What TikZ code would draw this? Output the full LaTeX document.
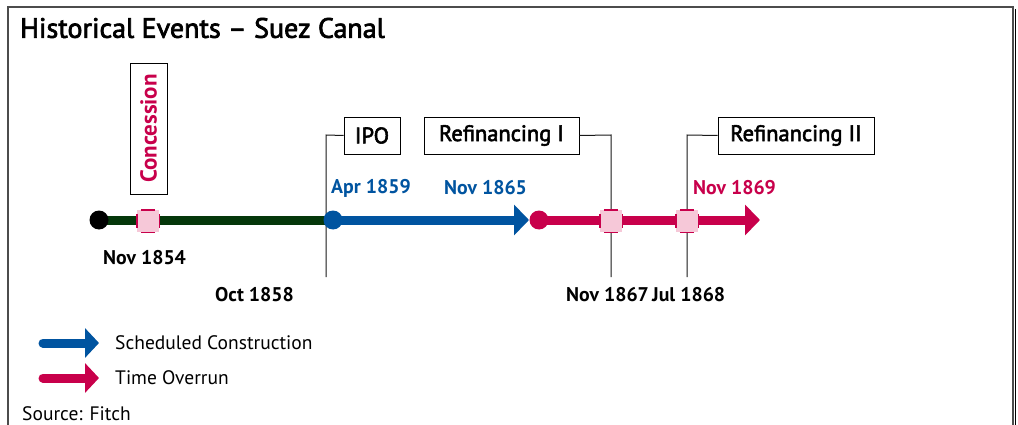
\documentclass[tikz,border=0pt]{standalone}
\usepackage{fontspec}
\setmainfont{PT Sans}
\newfontfamily\semib[FakeBold=2.5]{PT Sans}
\usetikzlibrary{arrows.meta}
\definecolor{dkgreen}{RGB}{5,55,10}
\definecolor{fblue}{RGB}{0,84,160}
\definecolor{crim}{RGB}{200,0,75}
\definecolor{lpink}{RGB}{246,200,216}
\tikzset{
  evbox/.style={draw=black, line width=0.9pt, fill=white, minimum height=37pt, inner sep=0pt, font=\semib\fontsize{22.5}{24}\selectfont},
  lead/.style={draw=black!90, line width=1pt},
  date/.style={font=\bfseries\fontsize{19.8}{22}\selectfont, inner sep=0pt},
  legtxt/.style={font=\fontsize{19.5}{22}\selectfont, inner sep=0pt, anchor=west},
  dot/.style={circle, minimum size=19pt, inner sep=0pt},
  pinksq/.style={rectangle, fill=lpink, minimum size=22pt, inner sep=0pt},
  bar/.style={line width=9pt},
}
\newcommand{\pinkmark}[2]{%
  \node[pinksq] (#1) at #2 {};
  \draw[crim, line width=1.4pt] ([xshift=4pt]#1.north west) -- ([xshift=-4pt]#1.north east)
    ([xshift=4pt]#1.south west) -- ([xshift=-4pt]#1.south east)
    ([yshift=-4pt]#1.north west) -- ([yshift=4pt]#1.south west)
    ([yshift=-4pt]#1.north east) -- ([yshift=4pt]#1.south east);
}
\begin{document}
\begin{tikzpicture}[x=1pt,y=-1pt]
\useasboundingbox (0,0) rectangle (1018,425);
\fill[white] (0,0) rectangle (1018,425);
% frame
\draw[black!70, line width=1.2pt] (8,426) -- (8,7) -- (1013,7) -- (1013,426);
\draw[black, line width=1pt] (1015,9) -- (1015,426);
% title
\node[anchor=west, inner sep=0pt, font=\semib\fontsize{28}{30}\selectfont] (title) at (20,28) {Historical Events – Suez Canal};

% timeline coordinates
\coordinate (pstart) at (99,220);
\coordinate (pipo) at (333,220);
\coordinate (pnov65) at (529,220);
\coordinate (pcrim) at (539,220);
\coordinate (pend) at (760,220);

% bars
\draw[dkgreen, bar] (pstart) -- (pipo);
\draw[fblue, bar, -{Triangle[length=15pt,width=30pt]}] (pipo) -- (pnov65);
\draw[crim, bar, -{Triangle[length=15pt,width=30pt]}] (pcrim) -- (pend);

% leader lines
\coordinate (ipotop) at (326,135);
\coordinate (ipobot) at (326,277);
\coordinate (r1top) at (611,135);
\coordinate (r1bot) at (611,277);
\coordinate (r2top) at (687,135);
\coordinate (r2bot) at (687,277);
\node[evbox, minimum width=56pt] (ipo) at (372,135.5) {IPO};
\node[evbox, minimum width=155pt] (ref1) at (501.5,135.5) {Refinancing I};
\node[evbox, minimum width=156pt] (ref2) at (796,135.5) {Refinancing II};
\draw[lead] (ipo.west) -- (ipotop) -- (ipobot);
\draw[lead] (ref1.east) -- (r1top) -- (r1bot);
\draw[lead] (ref2.west) -- (r2top) -- (r2bot);

% dots
\node[dot, fill=black] (d0) at (pstart) {};
\node[dot, fill=fblue] (d1) at (pipo) {};
\node[dot, fill=crim] (d2) at (pcrim) {};

% marks
\pinkmark{m0}{(148,221)}
\pinkmark{m1}{(611,221)}
\pinkmark{m2}{(687,221)}

% concession
\node[draw=black, line width=0.9pt, fill=white, minimum width=37pt, minimum height=131pt, inner sep=0pt] (conc) at (148.5,128.5) {};
\node[rotate=90, text=crim, font=\bfseries\fontsize{23}{24}\selectfont, inner sep=0pt] (conctxt) at (conc.center) {Concession};

% dates
\node[date, anchor=west] (t1) at (103,258) {Nov 1854};
\node[date, anchor=west] (t2) at (215,295) {Oct 1858};
\node[date, anchor=west, text=fblue] (t3) at (331,188) {Apr 1859};
\node[date, anchor=west, text=fblue] (t4) at (444,188) {Nov 1865};
\node[date, anchor=west] (t5) at (566,295) {Nov 1867};
\node[date, anchor=west] (t6) at (652,295) {Jul 1868};
\node[date, anchor=west, text=crim] (t7) at (693,188) {Nov 1869};

% legend
\coordinate (lb0) at (43,343);
\coordinate (lb1) at (99,343);
\coordinate (lc0) at (43,378);
\coordinate (lc1) at (99,378);
\draw[fblue, line width=9pt, line cap=round, -{Triangle[length=14pt,width=29pt]}] (lb0) -- (lb1);
\draw[crim, line width=9pt, line cap=round, -{Triangle[length=14pt,width=29pt]}] (lc0) -- (lc1);
\node[legtxt] (l1) at (115,343) {Scheduled Construction};
\node[legtxt] (l2) at (115,378) {Time Overrun};
\node[legtxt] (src) at (22,414) {Source: Fitch};
\end{tikzpicture}
\end{document}
